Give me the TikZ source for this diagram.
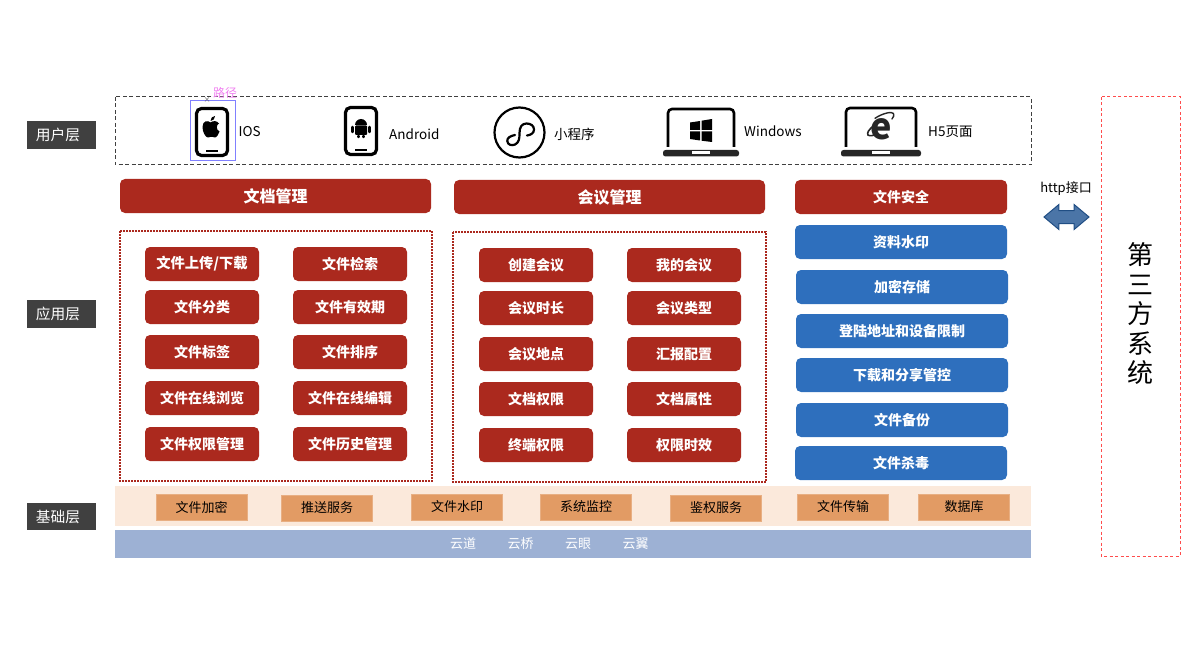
\documentclass[tikz,border=0pt]{standalone}
\usepackage{fontspec}
\setmainfont{Noto Sans CJK SC}
\usepackage{xcolor}
\usetikzlibrary{arrows.meta,positioning,shapes.arrows}
\definecolor{wbred}{RGB}{171,41,30}
\definecolor{wbblue}{RGB}{46,111,189}
\definecolor{wbgray}{RGB}{64,64,64}
\definecolor{wborange}{RGB}{226,155,100}
\definecolor{wbcream}{RGB}{251,233,219}
\definecolor{wbsteel}{RGB}{157,177,212}
\definecolor{wbpink}{RGB}{240,130,240}
\tikzset{
  redbtn/.style={fill=wbred,rounded corners=5pt,text=white,font=\fontsize{14}{16}\bfseries\selectfont,inner sep=0pt,anchor=center},
  headbtn/.style={redbtn,font=\fontsize{16}{18}\bfseries\selectfont},
  bluebtn/.style={redbtn,fill=wbblue},
  layertag/.style={fill=wbgray,text=white,font=\fontsize{14.7}{16}\selectfont,inner sep=0pt,minimum width=69pt,minimum height=28pt,execute at end node={\hspace{7pt}}},
  basebtn/.style={fill=wborange,draw=wborange!80!white,font=\fontsize{13}{15}\selectfont,inner sep=0pt,minimum width=91pt,minimum height=26pt},
  applabel/.style={font=\fontsize{13.5}{15}\selectfont,anchor=west,inner sep=0pt},
  cloudlabel/.style={text=white,font=\fontsize{13}{15}\selectfont,inner sep=0pt},
  dotbox/.style={draw=wbred,line width=1.6pt,dash pattern=on 1.6pt off 1.4pt},
}
% phone outline, #1 = left, #2 = top
\newcommand{\phonebody}[2]{
  \draw[line width=3.2pt,rounded corners=5pt] (#1+1.5,#2+1.5) rectangle (#1+32.5,#2+48.5);
  \fill (#1+11,#2+43) rectangle (#1+23,#2+45.5);
}
% laptop outline, #1 = left of base, #2 = right of base, #3 = top
\newcommand{\laptopbody}[3]{
  \draw[line width=2.6pt,rounded corners=4pt] (#1+5,147) |- (#2-5,#3) -- (#2-5,147);
  \fill[rounded corners=2.5pt,black!85] (#1,150) rectangle (#2,156.5);
  \fill[white] ({(#1+#2)/2-9},151.5) rectangle ({(#1+#2)/2+9},154.5);
}
\begin{document}
\begin{tikzpicture}[x=1pt,y=-1pt]
  \useasboundingbox (0,0) rectangle (1200,650);
  % layer tags
  \node[layertag] (taguser) at (61.5,135) {用户层};
  \node[layertag] (tagapp) at (61.5,314) {应用层};
  \node[layertag,minimum height=27pt] (tagbase) at (61.5,516.5) {基础层};
  % user layer
  \draw[black!75,line width=1pt,dash pattern=on 4pt off 2.5pt] (115,97) rectangle (1031,165);
  \phonebody{195}{107}
  \fill (210.5,122.5) .. controls (208,120) and (202.5,120.5) .. (202.5,127) .. controls (202.5,132) and (205.5,137.5) .. (208,137.5) .. controls (209.5,137.5) and (210,136.7) .. (211.5,136.7) .. controls (213,136.7) and (213.5,137.5) .. (215,137.5) .. controls (216.5,137.5) and (218.5,134.5) .. (219.5,131.5) .. controls (216,130) and (216,125) .. (219,123.5) .. controls (217,120.5) and (213,120.5) .. (210.5,122.5) -- cycle;
  \fill (210.5,121) .. controls (210.5,118) and (212.5,116) .. (215,116) .. controls (215,118.5) and (213.5,120.8) .. (210.5,121) -- cycle;
  \draw[draw=blue!50!white,line width=1pt] (190,101) rectangle (235,161);
  \node[text=wbpink,font=\fontsize{12}{14}\selectfont,inner sep=0pt] (pathtag) at (225,93) {路径};
  \node[font=\fontsize{7}{8}\selectfont,inner sep=0pt,text=black!70] (handle) at (207,100) {×};
  \node[applabel] (ios) at (238.5,132) {IOS};
  \phonebody{344}{106}
  \fill[rounded corners=1pt] (355,125.5) rectangle (367,135);
  \fill (355,125) arc[start angle=180,end angle=360,radius=6];
  \draw[line width=2.5pt,line cap=round] (352.3,127) -- (352.3,132) (369.7,127) -- (369.7,132) (358.5,136) -- (358.5,137) (363.5,136) -- (363.5,137);
  \node[applabel] (android) at (389,134) {Android};
  \node[draw,line width=2.2pt,circle,minimum size=50pt,inner sep=0pt] (miniapp) at (519.5,132.5) {};
  \draw[line width=2.2pt,line cap=round] (515,135) .. controls (510,136) and (507,138) .. (507.3,141) .. controls (507.5,145) and (512,146) .. (515,144.5) .. controls (519,142.5) and (519.5,139) .. (519.5,133) .. controls (519.5,127) and (522,123.5) .. (526.5,123.5) .. controls (531,123.5) and (534,126) .. (534,129.5) .. controls (534,133) and (531,135) .. (527,135.5);
  \node[applabel] (mininame) at (554,134) {小程序};
  \laptopbody{663}{739}{109}
  \fill (690,122.5) -- (700,121) -- (700,130) -- (690,130) -- cycle
        (701.5,120.7) -- (712,119) -- (712,130) -- (701.5,130) -- cycle
        (690,131.5) -- (700,131.5) -- (700,140.5) -- (690,139) -- cycle
        (701.5,131.5) -- (712,131.5) -- (712,142) -- (701.5,140.7) -- cycle;
  \node[applabel] (windows) at (744,131) {Windows};
  \laptopbody{841}{921}{108}
  \node[font=\fontsize{36}{38}\bfseries\selectfont,inner sep=0pt,text=black!85] (ielogo) at (881.5,129.5) {e};
  \draw[line width=1.4pt,black!85,line cap=round] (875,118.3) .. controls (882,113.5) and (892,111) .. (893.5,113.5) .. controls (894.5,115) and (893.5,117) .. (892,119);
  \draw[line width=1.6pt,black!85,line cap=round] (873.3,126) .. controls (869,129.5) and (866.5,133) .. (868,135) .. controls (869.5,136.5) and (874,135.5) .. (878,133.5);
  \node[applabel] (h5page) at (928,132) {H5页面};
  % application layer
  \node[headbtn,minimum width=311pt,minimum height=34pt] (docmgr) at (275.5,196) {文档管理};
  \node[headbtn,minimum width=311pt,minimum height=34pt] (meetmgr) at (609.5,197) {会议管理};
  \node[redbtn,minimum width=212pt,minimum height=34pt] (filesafe) at (901,197) {文件安全};
  \draw[dotbox] (120,231) rectangle (432,481);
  \draw[dotbox] (453,232) rectangle (766,482);
  \foreach \name/\cx/\cy/\txt in {
    da/202/264/{\fontsize{14.3}{16}\selectfont 文件上传/下载}, db/350/264/文件检索,
    dc/202/307/文件分类, dd/350/307/文件有效期,
    de/202/352/文件标签, df/350/352/文件排序,
    dg/202/398/文件在线浏览, dh/350/398/文件在线编辑,
    di/202/444/文件权限管理, dj/350/444/文件历史管理,
    ma/536/265/创建会议, mb/684/265/我的会议,
    mc/536/308/会议时长, md/684/308/会议类型,
    me/536/354/会议地点, mf/684/354/汇报配置,
    mg/536/399/文档权限, mh/684/399/文档属性,
    mi/536/445/终端权限, mj/684/445/权限时效}
    \node[redbtn,minimum width=114pt,minimum height=34pt] (\name) at (\cx,\cy) {\txt};
  \foreach \name/\cx/\cy/\txt in {
    sa/901/242/资料水印, sb/902/287/加密存储,
    sc/902/331/登陆地址和设备限制, sd/902/375/下载和分享管控,
    se/902/420/文件备份, sf/901/463/文件杀毒}
    \node[bluebtn,minimum width=212pt,minimum height=34pt] (\name) at (\cx,\cy) {\txt};
  % base layer
  \fill[wbcream] (115,486) rectangle (1031,526);
  \foreach \name/\cx/\cy/\txt in {
    ba/201.5/507/文件加密, bb/327/508/推送服务, bc/457/507/文件水印,
    bd/586/507/系统监控, be/716/508/鉴权服务, bf/843/507/文件传输, bg/964/507/数据库}
    \node[basebtn] (\name) at (\cx,\cy) {\txt};
  \fill[wbsteel] (115,530) rectangle (1031,558);
  \foreach \name/\cx/\txt in {ca/463/云道, cb/520.5/云桥, cc/578/云眼, cd/635.5/云翼}
    \node[cloudlabel] (\name) at (\cx,544) {\txt};
  % third party
  \draw[draw=red!70!white,line width=1pt,dash pattern=on 3pt off 2.5pt] (1101,97) rectangle (1180,556);
  \node[font=\fontsize{26}{29.5}\selectfont,align=center,inner sep=0pt] (thirdparty) at (1140.5,314) {第\\三\\方\\系\\统};
  \node[font=\fontsize{13}{15}\selectfont,inner sep=0pt] (httpapi) at (1066,189) {http接口};
  \node[double arrow,draw=wbblue!70!black,fill=wbblue!65!gray,line width=1pt,inner xsep=0pt,inner ysep=6pt,minimum height=45pt,double arrow head extend=6pt,double arrow tip angle=80] (httparrow) at (1066.5,217) {};
\end{tikzpicture}
\end{document}
